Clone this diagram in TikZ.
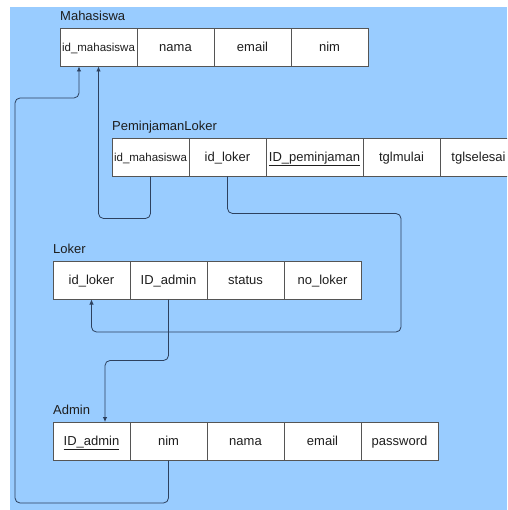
\documentclass[tikz,border=0pt]{standalone}
\usepackage{fontspec}
\setmainfont{Liberation Sans}
\usetikzlibrary{arrows.meta,positioning}
\definecolor{sky}{RGB}{153,204,255}
\definecolor{ink}{RGB}{30,30,30}
\definecolor{edge}{RGB}{85,85,85}
\definecolor{link}{RGB}{45,65,95}

\begin{document}
\begin{tikzpicture}[x=1pt,y=-1pt,every node/.style={font=\fontsize{13}{15}\selectfont,text=ink},
  cell/.style={draw=edge,fill=white,minimum width=77pt,minimum height=38.5pt,inner sep=0pt,outer sep=0pt,text height=8pt,text depth=0pt},
  small/.style={font=\fontsize{11.5}{13}\selectfont},
  tbl/.style={anchor=base west,inner sep=0pt},
  fk/.style={-{Latex[length=5pt,width=4.5pt]},link,thick,rounded corners=5pt},node distance=0pt]
\useasboundingbox (0,0) rectangle (507,510);
\fill[sky] (10,7) rectangle (507,510);
\clip (0,0) rectangle (507,510);
% Mahasiswa
\node[cell,small,anchor=north west] (m1) at (60,28) {id\_mahasiswa};
\node[cell,right=of m1] (m2) {nama};
\node[cell,right=of m2] (m3) {email};
\node[cell,right=of m3] (m4) {nim};
\node[tbl] (tm) at ([yshift=7.5pt]m1.north west) {Mahasiswa};
% PeminjamanLoker
\node[cell,small,anchor=north west] (p1) at (112,138) {id\_mahasiswa};
\node[cell,right=of p1] (p2) {id\_loker};
\node[cell,right=of p2,minimum width=97pt] (p3) {\underline{ID\_peminjaman}};
\node[cell,right=of p3] (p4) {tglmulai};
\node[cell,right=of p4] (p5) {tglselesai};
\node[tbl] (tp) at ([yshift=7.5pt]p1.north west) {PeminjamanLoker};
% Loker
\node[cell,anchor=north west] (l1) at (53,261) {id\_loker};
\node[cell,right=of l1] (l2) {ID\_admin};
\node[cell,right=of l2] (l3) {status};
\node[cell,right=of l3] (l4) {no\_loker};
\node[tbl] (tl) at ([yshift=7.5pt]l1.north west) {Loker};
% Admin
\node[cell,anchor=north west] (a1) at (53,422) {\underline{ID\_admin}};
\node[cell,right=of a1] (a2) {nim};
\node[cell,right=of a2] (a3) {nama};
\node[cell,right=of a3] (a4) {email};
\node[cell,right=of a4] (a5) {password};
\node[tbl] (ta) at ([yshift=7.5pt]a1.north west) {Admin};
% relations
\draw[fk] (a2.south) |- (15,503) |- (79,98) -- ([xshift=-19.5pt]m1.south);
\draw[fk] (p1.south) -- ++(0,42) -| (m1.south);
\draw[fk] (p2.south) -- ++(0,37) -| (401,332) -| (l1.south);
\draw[fk] (l2.south) -- ++(0,61) -| ([xshift=13.5pt]a1.north);
\end{tikzpicture}
\end{document}
